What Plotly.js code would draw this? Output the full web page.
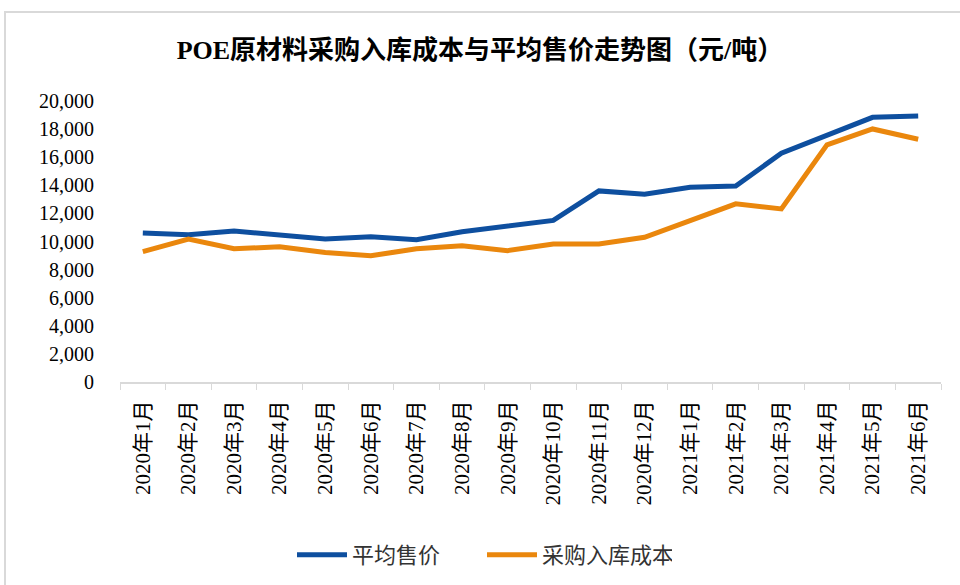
<!DOCTYPE html>
<html>
<head>
<meta charset="utf-8">
<script src="https://cdn.plot.ly/plotly-3.0.1.min.js"></script>
<style>
html,body{margin:0;padding:0;background:#fff;}
#wrap{position:relative;width:960px;height:585px;overflow:hidden;}
#chart{position:absolute;left:0;top:0;width:960px;height:585px;}
#frame{position:absolute;left:4px;top:11px;width:1000px;height:700px;border-left:2px solid #d9d9d9;border-top:2px solid #d9d9d9;pointer-events:none;}
</style>
</head>
<body>
<div id="wrap"><div id="chart"></div><div id="frame"></div></div>
<script>
const categories = ["2020年1月","2020年2月","2020年3月","2020年4月","2020年5月","2020年6月","2020年7月","2020年8月","2020年9月","2020年10月","2020年11月","2020年12月","2021年1月","2021年2月","2021年3月","2021年4月","2021年5月","2021年6月"];
const avgPrice = [10600,10480,10750,10460,10180,10340,10120,10700,11100,11500,13600,13360,13860,13950,16280,17580,18840,18930];
const purchaseCost = [9280,10180,9480,9630,9220,8980,9480,9700,9350,9820,9830,10300,11480,12680,12320,16880,18010,17280];
const seriesNames = ["平均售价","采购入库成本"];
const yTicks = [0,2000,4000,6000,8000,10000,12000,14000,16000,18000,20000];

const serif = '"Liberation Serif","Times New Roman","Noto Sans CJK SC",serif';
const traces = [
  {x: categories, y: avgPrice, name: seriesNames[0], type: 'scatter', mode: 'lines',
   line: {color: '#0E4F9F', width: 5}},
  {x: categories, y: purchaseCost, name: seriesNames[1], type: 'scatter', mode: 'lines',
   line: {color: '#EA870D', width: 5}}
];
const layout = {
  width: 960, height: 585,
  margin: {l: 120, r: 19, t: 101, b: 203},
  paper_bgcolor: '#fff', plot_bgcolor: '#fff',
  title: {text: '<b>POE原材料采购入库成本与平均售价走势图（元/吨）</b>',
    font: {family: serif, size: 26, color: '#000'},
    x: 0.5, xanchor: 'center', y: 1 - 50/585, yref: 'container', yanchor: 'middle'},
  xaxis: {type: 'category', tickson: 'boundaries', ticks: 'outside', ticklen: 6,
    tickcolor: '#d9d9d9', showline: true, linecolor: '#d9d9d9', linewidth: 2,
    showgrid: false, zeroline: false, tickangle: -90, ticklabelstandoff: 8,
    tickfont: {family: serif, size: 21, color: '#000'}, range: [-0.5, 17.5]},
  yaxis: {range: [0, 20000], tickvals: yTicks, tickformat: ',d', showgrid: false,
    zeroline: false, showline: false, ticks: '', ticklabelstandoff: 25,
    tickfont: {family: serif, size: 20, color: '#000'}},
  showlegend: true,
  legend: {orientation: 'h', x: 292/960, xanchor: 'left', xref: 'container',
    y: 1 - 555/585, yref: 'container', yanchor: 'middle',
    font: {family: '"Noto Sans CJK SC",sans-serif', size: 22, color: '#333'},
    itemwidth: 50, tracegroupgap: 0, entrywidth: 125, entrywidthmode: 'pixels'}
};
Plotly.newPlot('chart', traces, layout, {displayModeBar: false, responsive: false});
</script>
</body>
</html>
